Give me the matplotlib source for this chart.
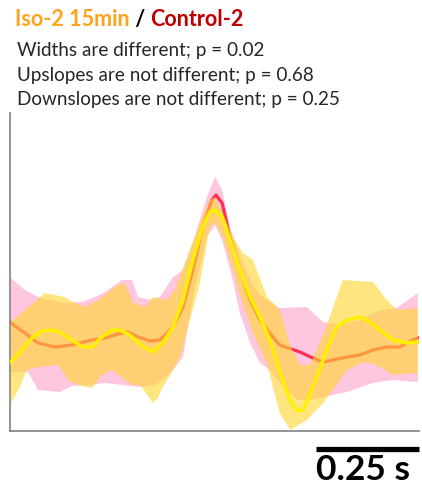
import numpy as np
import matplotlib
matplotlib.use("Agg")
import matplotlib.pyplot as plt

# time in s, amplitude in a.u. (no y scale shown on the chart)
ctrl_t = np.array([0.002, 0.036, 0.068, 0.109, 0.150, 0.199, 0.231, 0.262, 0.286, 0.311,
                   0.340, 0.364, 0.396, 0.420, 0.444, 0.468, 0.490, 0.500, 0.515, 0.534,
                   0.558, 0.583, 0.607, 0.638, 0.655, 0.704, 0.735, 0.760, 0.784, 0.818,
                   0.849, 0.881, 0.915, 0.947, 0.978, 0.990])
ctrl_mean = np.array([108, 98, 88, 84, 86, 91, 93, 97, 99, 94,
                      90, 91, 104, 124, 161, 204, 231, 236, 228, 194,
                      161, 131, 111, 94, 86, 79, 73, 69, 71, 74,
                      76, 81, 84, 84, 91, 93])

ctrl_up_t = np.array([0.002, 0.036, 0.068, 0.097, 0.133, 0.175, 0.206, 0.231, 0.272, 0.296,
                      0.311, 0.340, 0.364, 0.396, 0.420, 0.444, 0.478, 0.498, 0.515, 0.534,
                      0.558, 0.583, 0.607, 0.624, 0.655, 0.721, 0.760, 0.801, 0.850, 0.898,
                      0.939, 0.990])
ctrl_up = np.array([153, 141, 134, 131, 128, 129, 134, 139, 151, 151,
                    134, 131, 134, 154, 161, 188, 234, 254, 241, 204,
                    176, 151, 136, 131, 123, 124, 109, 106, 111, 121,
                    123, 138])

ctrl_lo_t = np.array([0.002, 0.044, 0.068, 0.121, 0.150, 0.194, 0.231, 0.272, 0.316, 0.352,
                      0.376, 0.396, 0.420, 0.444, 0.478, 0.498, 0.515, 0.541, 0.558, 0.583,
                      0.607, 0.631, 0.655, 0.697, 0.728, 0.760, 0.818, 0.881, 0.930, 0.990])
ctrl_lo = np.array([59, 59, 41, 39, 45, 46, 48, 46, 44, 46,
                    53, 61, 74, 134, 194, 206, 191, 151, 118, 88,
                    68, 61, 48, 31, 31, 34, 39, 48, 51, 49])

iso_t = np.array([0.002, 0.029, 0.053, 0.078, 0.102, 0.121, 0.150, 0.177, 0.199, 0.223,
                  0.248, 0.267, 0.291, 0.320, 0.347, 0.371, 0.396, 0.420, 0.444, 0.468,
                  0.485, 0.498, 0.515, 0.534, 0.558, 0.583, 0.607, 0.631, 0.655, 0.680,
                  0.697, 0.711, 0.728, 0.745, 0.769, 0.793, 0.818, 0.850, 0.874, 0.898,
                  0.930, 0.964, 0.990])
iso_mean = np.array([69, 81, 93, 100, 101, 99, 91, 84, 84, 94,
                     101, 101, 96, 85, 79, 88, 104, 131, 171, 204,
                     219, 221, 214, 191, 161, 134, 114, 91, 59, 31,
                     20, 21, 36, 54, 81, 104, 111, 114, 109, 101,
                     91, 88, 89])

iso_up_t = np.array([0.002, 0.036, 0.085, 0.133, 0.158, 0.182, 0.214, 0.262, 0.279, 0.299,
                     0.328, 0.347, 0.381, 0.400, 0.430, 0.461, 0.485, 0.498, 0.517, 0.541,
                     0.565, 0.590, 0.624, 0.655, 0.680, 0.704, 0.728, 0.745, 0.765, 0.808,
                     0.881, 0.915, 0.939, 0.990])
iso_up = np.array([109, 121, 138, 134, 128, 124, 131, 146, 148, 128,
                   124, 134, 131, 141, 174, 208, 231, 234, 218, 194,
                   178, 171, 134, 121, 86, 66, 66, 81, 101, 151,
                   149, 131, 121, 123])

iso_lo_t = np.array([0.002, 0.024, 0.041, 0.068, 0.117, 0.141, 0.165, 0.199, 0.223, 0.247,
                     0.296, 0.316, 0.333, 0.347, 0.359, 0.371, 0.396, 0.413, 0.432, 0.461,
                     0.485, 0.498, 0.517, 0.541, 0.565, 0.590, 0.624, 0.638, 0.655, 0.680,
                     0.721, 0.760, 0.784, 0.818, 0.859, 0.890, 0.930, 0.990])
iso_lo = np.array([28, 44, 61, 64, 66, 51, 46, 43, 56, 61,
                   46, 46, 36, 28, 33, 44, 61, 74, 104, 148,
                   204, 208, 194, 161, 128, 98, 68, 44, 18, 1,
                   11, 28, 41, 61, 69, 66, 56, 58])

scale_len = 0.25  # s
scale_label = "0.25 s"

title_iso = "Iso-2 15min"
title_sep = " / "
title_ctrl = "Control-2"
stat_lines = [
    "Widths are different; p = 0.02",
    "Upslopes are not different; p = 0.68",
    "Downslopes are not different; p = 0.25",
]

plt.rcParams["font.family"] = ["Lato", "DejaVu Sans"]

fig = plt.figure(figsize=(4.22, 4.87), dpi=100)
ax = fig.add_axes([10 / 422, 56 / 487, 409 / 422, 318 / 487])

# control band + mean underneath, iso band and mean on top
ax.fill(np.concatenate([ctrl_up_t, ctrl_lo_t[::-1]]),
        np.concatenate([ctrl_up, ctrl_lo[::-1]]),
        color="#ffc6df", lw=0, zorder=1)
ax.plot(ctrl_t, ctrl_mean, color="#ff2f55", lw=2.3, zorder=2,
        solid_joinstyle="round")
ax.fill(np.concatenate([iso_up_t, iso_lo_t[::-1]]),
        np.concatenate([iso_up, iso_lo[::-1]]),
        color="#ffd531", alpha=0.62, lw=0, zorder=3)
ax.plot(iso_t, iso_mean, color="#fff000", lw=2.5, zorder=4,
        solid_joinstyle="round")

ax.set_xlim(0, 0.993)
ax.set_ylim(0, 318)
for side in ("top", "right"):
    ax.spines[side].set_visible(False)
for side in ("left", "bottom"):
    ax.spines[side].set_color("#808080")
    ax.spines[side].set_linewidth(1.2)
ax.set_xticks([])
ax.set_yticks([])

# scale bar below the axis, in data units
bar_end = 0.993
ax.plot([bar_end - scale_len, bar_end], [-18, -18], color="black", lw=3.8,
        clip_on=False, solid_capstyle="butt")
ax.text(bar_end - scale_len / 2 - 0.01, -49, scale_label, ha="center", va="baseline",
        fontsize=25.5, fontweight="bold", clip_on=False)

t1 = fig.text(15 / 422, 1 - 26 / 487, title_iso, color="#ffa31a",
              fontsize=15.5, fontweight="bold", va="baseline")
t2 = ax.annotate(title_sep, xy=(1, 0), xycoords=t1, va="bottom", ha="left",
                 fontsize=15.5, fontweight="bold", color="black")
ax.annotate(title_ctrl, xy=(1, 0), xycoords=t2, va="bottom", ha="left",
            fontsize=15.5, fontweight="bold", color="#c00000")

for i, line in enumerate(stat_lines):
    fig.text(17 / 422, 1 - (56 + 24.5 * i) / 487, line, color="#262626",
             fontsize=13.6, va="baseline")

fig.savefig("out.png", dpi=100)
